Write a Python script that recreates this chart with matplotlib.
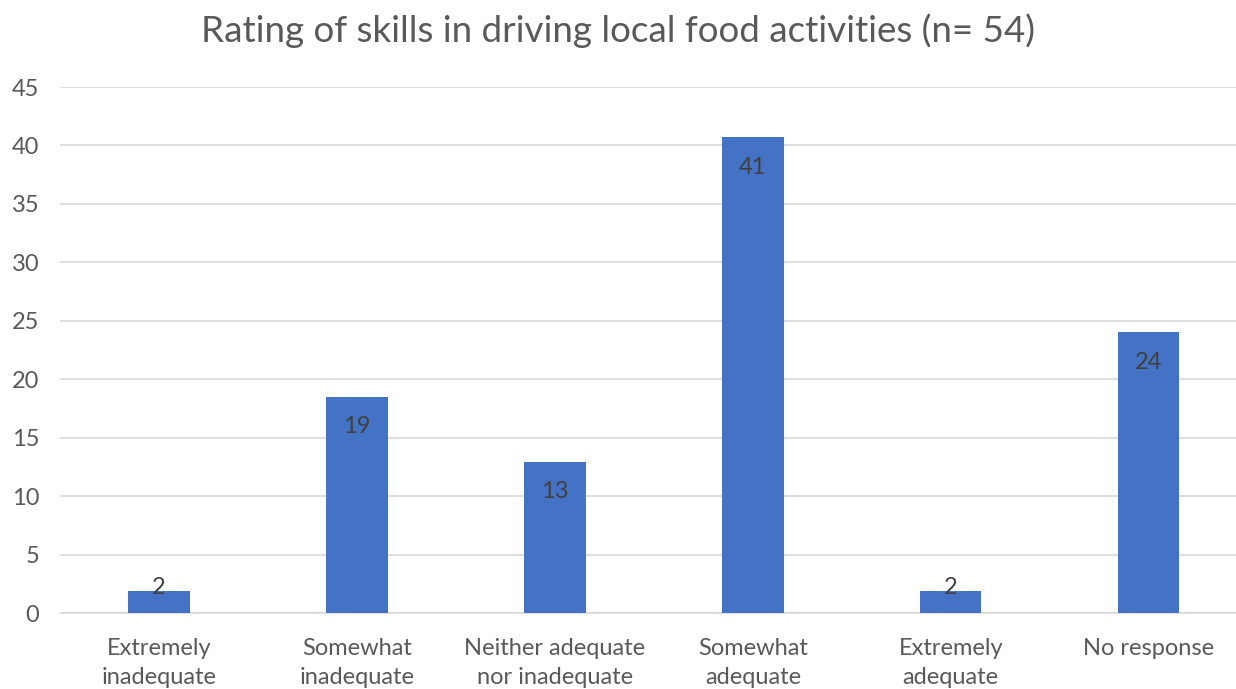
import matplotlib
matplotlib.use("Agg")
import matplotlib.pyplot as plt

plt.rcParams['font.family'] = ['Lato', 'DejaVu Sans']

categories = ["Extremely\ninadequate", "Somewhat\ninadequate", "Neither adequate\nnor inadequate",
              "Somewhat\nadequate", "Extremely\nadequate", "No response"]
# percent of 54 respondents
percent = [1.85, 18.52, 12.96, 40.74, 1.85, 24.07]
yticks = [0, 5, 10, 15, 20, 25, 30, 35, 40, 45]

fig = plt.figure(figsize=(12.36, 6.89), dpi=100)
ax = fig.add_axes([0.0485, 0.1103, 0.961, 0.7634])

x = range(len(categories))
bars = ax.bar(x, percent, width=0.31, color="#4472C4", zorder=3)

# value labels just inside the bar end, kept above the axis for short bars
for xi, v in zip(x, percent):
    ax.text(xi, max(v - 2.6, 2.2), "{:.0f}".format(v), ha="center", va="center",
            fontsize=17, color="#404040", zorder=4)

ax.set_xlim(-0.5, 5.5)
ax.set_ylim(0, 45)
ax.set_yticks(yticks)
ax.set_xticks(list(x))
ax.set_xticklabels(categories, fontsize=17, color="#595959", linespacing=1.45)
ax.tick_params(axis="y", labelsize=17, labelcolor="#595959", length=0, pad=15)
ax.tick_params(axis="x", length=0, pad=18)
ax.grid(axis="y", color="#D9D9D9", linewidth=1.2, zorder=0)
for s in ["top", "right", "left"]:
    ax.spines[s].set_visible(False)
ax.spines["bottom"].set_color("#D9D9D9")
ax.spines["bottom"].set_linewidth(1.2)

fig.text(0.5, 0.956, "Rating of skills in driving local food activities (n= 54)",
         ha="center", va="center", fontsize=26.5, color="#595959")

fig.savefig("out.png", dpi=100)
